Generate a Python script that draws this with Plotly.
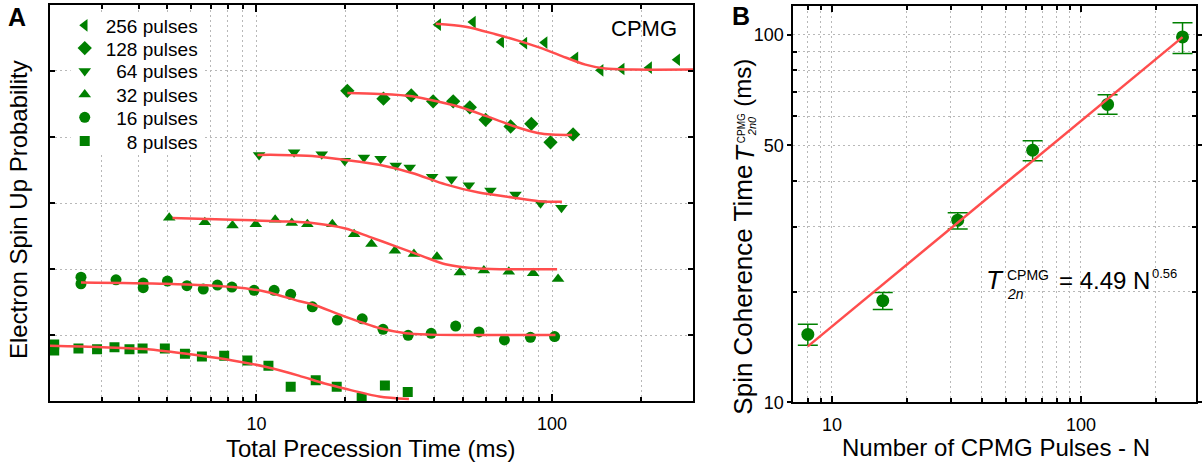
import math
import plotly.graph_objects as go

W, H = 1202, 475

# ---------------- Panel A data (total precession time in ms, spin-up probability offset) -------------
t8 = [2.07, 2.07, 2.50, 2.89, 3.31, 3.72, 4.12, 4.90, 5.73, 6.54, 7.78, 9.32, 10.98, 13.06, 15.87, 18.69, 22.7, 27.2, 32.5]
p8 = [0.86, 0.77, 0.80, 0.79, 0.82, 0.79, 0.80, 0.80, 0.72, 0.68, 0.69, 0.62, 0.54, 0.22, 0.32, 0.22, 0.05, 0.24, 0.14]

t16 = [2.55, 2.55, 3.35, 4.14, 4.14, 5.00, 5.82, 6.61, 7.38, 8.26, 9.82, 11.48, 13.06, 15.46, 18.78, 22.8,
       26.8, 32.6, 39.0, 47.2, 56.6, 69.0, 84.5, 102]
p16 = [1.88, 1.78, 1.84, 1.79, 1.72, 1.82, 1.75, 1.70, 1.76, 1.73, 1.68, 1.68, 1.62, 1.43, 1.23, 1.25,
       1.09, 1.00, 1.03, 1.14, 1.05, 0.93, 0.97, 0.98]

t32 = [5.07, 6.69, 8.3, 9.95, 11.57, 13.17, 14.87, 18.06, 21.4, 24.5, 29.4, 34.1, 40.8, 48.8, 58.8, 71.4, 86.3, 104.8]
p32 = [2.78, 2.71, 2.66, 2.68, 2.75, 2.70, 2.68, 2.68, 2.53, 2.38, 2.28, 2.23, 2.19, 1.95, 1.98, 1.96, 1.94, 1.85]

t64 = [10.21, 13.41, 16.63, 19.89, 23.1, 26.3, 29.6, 33.0, 39.3, 45.7, 52.3, 61.9, 75.2, 91.4, 107.6]
p64 = [3.73, 3.77, 3.74, 3.64, 3.69, 3.67, 3.57, 3.54, 3.40, 3.36, 3.27, 3.19, 3.13, 3.00, 2.93]

t128 = [20.3, 26.9, 33.4, 39.6, 46.3, 52.7, 59.6, 72.4, 85.1, 98.8, 117.8]
p128 = [4.70, 4.58, 4.63, 4.54, 4.54, 4.45, 4.26, 4.16, 4.20, 3.92, 4.04]

t256 = [41.2, 54, 67.3, 80.6, 94.4, 120, 146, 172, 213, 265]
p256 = [5.70, 5.74, 5.44, 5.42, 5.43, 5.20, 5.01, 5.03, 5.05, 5.17]

# fitted decay curves
ft8 = [2.0, 3.0, 4.3, 5.8, 8.3, 10.8, 13.9, 17.0, 20.0, 26.0, 32.8]
fp8 = [0.84, 0.82, 0.79, 0.72, 0.62, 0.52, 0.39, 0.27, 0.19, 0.075, 0.035]
ft16 = [2.55, 4.94, 8.3, 10.76, 13.9, 15.45, 20.0, 26.0, 32.0, 38.3, 50.0, 102.7]
fp16 = [1.80, 1.78, 1.73, 1.66, 1.52, 1.47, 1.28, 1.11, 1.03, 1.01, 1.005, 1.005]
ft32 = [5.2, 8.3, 11.9, 15.45, 20.0, 24.0, 29.6, 36.4, 43.6, 56.5, 104]
fp32 = [2.775, 2.75, 2.725, 2.70, 2.617, 2.494, 2.346, 2.198, 2.074, 2.01, 2.0]
ft64 = [10.08, 11.93, 15.45, 20.0, 26.0, 33.6, 43.6, 56.5, 73.3, 90.2, 108]
fp64 = [3.73, 3.73, 3.714, 3.654, 3.58, 3.457, 3.284, 3.16, 3.086, 3.03, 3.02]
ft128 = [20.3, 26.0, 33.6, 41.4, 49.7, 59.6, 73.3, 90.2, 116.9]
fp128 = [4.667, 4.652, 4.617, 4.533, 4.444, 4.321, 4.173, 4.059, 4.03]
ft256 = [40.4, 51, 64.4, 77.2, 92.5, 108, 129.7, 151, 186, 300]
fp256 = [5.714, 5.67, 5.556, 5.456, 5.343, 5.225, 5.096, 5.037, 5.022, 5.022]

series_names = ["256 pulses", "128 pulses", "\u00a0\u00a064 pulses", "\u00a0\u00a032 pulses",
                "\u00a0\u00a016 pulses", "\u00a0\u00a0\u00a0\u00a08 pulses"]
series_symbols = ["triangle-left", "diamond", "triangle-down", "triangle-up", "circle", "square"]

# ---------------- Panel B data -------------
N_pulses = [8, 16, 32, 64, 128, 256]
T2 = [15.3, 18.9, 31.3, 48.5, 64.6, 98.6]
T2_err_plus = [1.0, 1.0, 1.5, 3.0, 4.1, 9.1]
T2_err_minus = [1.0, 1.0, 1.7, 3.1, 3.8, 9.7]
fitN = [8, 256]
fitT = [14.2, 98.5]

GREEN = "#008000"
RED = "#ff4d4d"
GRID = "#b8b8b8"
DOT = "2px,3px"
FONT = "Liberation Sans, Arial, sans-serif"

fig = go.Figure()

data_a = [(t256, p256, ft256, fp256), (t128, p128, ft128, fp128), (t64, p64, ft64, fp64),
          (t32, p32, ft32, fp32), (t16, p16, ft16, fp16), (t8, p8, ft8, fp8)]
sizes = [11, 11, 11, 11, 11, 10]
legend_ids = ["legend", "legend2", "legend3", "legend4", "legend5", "legend6"]

for i, (tx, py, fx, fy) in enumerate(data_a):
    fig.add_trace(go.Scatter(x=tx, y=py, mode="markers", name=series_names[i],
                             marker=dict(symbol=series_symbols[i], size=sizes[i], color=GREEN, line=dict(width=0)),
                             xaxis="x", yaxis="y", legend=legend_ids[i], showlegend=True))
for i, (tx, py, fx, fy) in enumerate(data_a):
    fig.add_trace(go.Scatter(x=fx, y=fy, mode="lines", line=dict(color=RED, width=2.5, shape="spline", smoothing=0.8),
                             xaxis="x", yaxis="y", showlegend=False, hoverinfo="skip"))

fig.add_trace(go.Scatter(x=N_pulses, y=T2, mode="markers", showlegend=False,
                         marker=dict(symbol="circle", size=13, color=GREEN),
                         error_y=dict(type="data", array=T2_err_plus, arrayminus=T2_err_minus,
                                      color=GREEN, thickness=1.5, width=10),
                         xaxis="x2", yaxis="y2"))
fig.add_trace(go.Scatter(x=fitN, y=fitT, mode="lines", line=dict(color=RED, width=2.5),
                         showlegend=False, xaxis="x2", yaxis="y2"))

minor_a = [2, 3, 4, 5, 6, 7, 8, 9, 20, 30, 40, 50, 60, 70, 80, 90, 200, 300]
minor_bx = [8, 9, 20, 30, 40, 50, 60, 70, 80, 90, 200]
minor_by = [20, 30, 40, 60, 70, 80, 90]

common = dict(showline=True, linecolor="black", linewidth=2, mirror="ticks", zeroline=False,
              tickcolor="black", tickwidth=1.5, showgrid=True, gridcolor=GRID, griddash=DOT, gridwidth=1,
              tickfont=dict(size=18, color="black", family=FONT))

fig.update_layout(
    width=W, height=H, autosize=False, margin=dict(l=0, r=0, t=0, b=0),
    paper_bgcolor="white", plot_bgcolor="white",
    font=dict(family=FONT, color="black"),
    xaxis=dict(type="log", domain=[50 / W, 696 / W], range=[math.log10(2), math.log10(300)], anchor="y",
               tickmode="array", tickvals=[10, 100], ticktext=["10", "100"], ticks="inside", ticklen=7,
               ticklabelstandoff=5,
               minor=dict(tickmode="array", tickvals=minor_a, ticks="inside", ticklen=4, tickcolor="black",
                          showgrid=True, gridcolor=GRID, griddash=DOT), **common),
    yaxis=dict(domain=[1 - 410 / H, 1 - 5 / H], range=[0, 6], anchor="x", tickmode="array",
               tickvals=[1, 2, 3, 4, 5], showticklabels=False, ticks="inside", ticklen=5, **common),
    xaxis2=dict(type="log", domain=[796.7 / W, 1201 / W], range=[math.log10(7), math.log10(290)], anchor="y2",
                tickmode="array", tickvals=[10, 100], ticktext=["10", "100"], ticks="inside", ticklen=6,
                ticklabelstandoff=5,
                minor=dict(tickmode="array", tickvals=minor_bx, ticks="inside", ticklen=4, tickcolor="black",
                           showgrid=True, gridcolor=GRID, griddash=DOT), **common),
    yaxis2=dict(type="log", domain=[1 - 411 / H, 1 - 5.7 / H], range=[1, math.log10(120)], anchor="x2",
                tickmode="array", tickvals=[10, 50, 100], ticktext=["10", "50", "100"], ticks="outside", ticklen=4,
                minor=dict(tickmode="array", tickvals=minor_by, ticks="inside", ticklen=4, tickcolor="black",
                           showgrid=True, gridcolor=GRID, griddash=DOT), **common),
)

# white panel behind the legend (hides gridlines, like the reference)
fig.add_shape(type="rect", xref="paper", yref="paper", x0=71 / W, x1=203 / W, y0=1 - 157 / H, y1=1 - 13 / H,
              fillcolor="white", line=dict(width=0), layer="above")

# legends: one per series so rows sit at the reference spacing
row_y = [26, 49.3, 72.7, 96.7, 120, 144.3]
for lid, ry in zip(legend_ids, row_y):
    fig.update_layout({lid: dict(x=64 / W, xanchor="left", y=1 - ry / H, yanchor="middle",
                                 bgcolor="rgba(0,0,0,0)", borderwidth=0, itemwidth=32,
                                 font=dict(size=19, family=FONT, color="black"))})


def ann(text, px, py, size, angle=0, xanchor="center", bold=False):
    fig.add_annotation(text=text, x=px / W, y=1 - py / H, xref="paper", yref="paper",
                       xanchor=xanchor, yanchor="middle", showarrow=False, textangle=angle,
                       font=dict(size=size, family=FONT, color="black",
                                 weight="bold" if bold else "normal"))


ann("A", 17.5, 17.7, 25, bold=True)
ann("B", 744, 16.7, 25, bold=True)
ann("CPMG", 646.7, 29, 22)
ann("Total Precession Time (ms)", 372.5, 457.7, 24)
ann("Number of CPMG Pulses - N", 1000, 456.7, 24)
ann("Electron Spin Up Probability", 18.7, 214, 24, angle=-90)
# panel B y title, pieces stacked like the reference
ann("Spin Coherence Time", 746, 296, 26, angle=-90)
ann("<i>T</i>", 748, 156.5, 26, angle=-90)
ann("CPMG", 744.5, 130.5, 10, angle=-90)
ann("<i>2n0</i>", 755, 129, 11, angle=-90)
ann("(ms)", 745.5, 84, 24, angle=-90)
# fit formula
ann("<i>T</i>", 999.5, 286, 26)
ann("CPMG", 1009, 280.6, 14, xanchor="left")
ann("<i>2n</i>", 1009, 300, 14, xanchor="left")
ann("= 4.49 N", 1109, 286.7, 24)
ann("0.56", 1169.5, 279, 13)

fig.write_html("out.html")
